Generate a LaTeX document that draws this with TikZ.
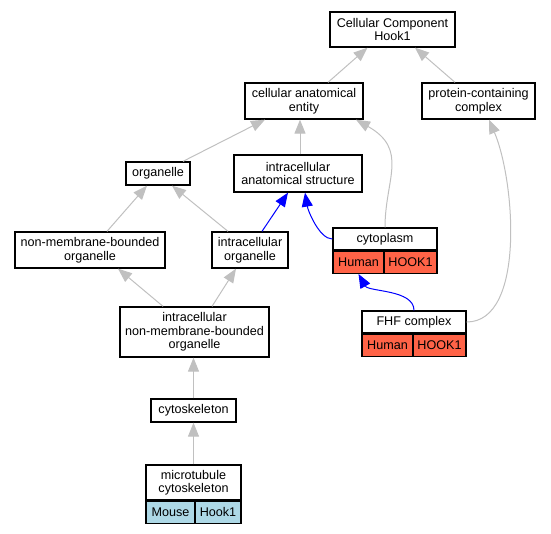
\documentclass[tikz,border=0pt]{standalone}
\usepackage{fontspec}
\setmainfont{Liberation Sans}
\usetikzlibrary{arrows.meta}
\definecolor{humanred}{HTML}{FF6347}
\definecolor{mouseblue}{HTML}{ADD8E6}
\definecolor{isagray}{HTML}{C0C0C0}

\begin{document}
\begin{tikzpicture}[x=1pt, y=-1pt,
    term/.style={draw, line width=1.3pt, fill=white, align=center, inner sep=0pt,
        font=\fontsize{12.6}{13.5}\selectfont},
    cell/.style={term, minimum height=22pt},
    isa/.style={draw=isagray, line width=1pt, -{Triangle[length=14pt,width=11pt]}},
    partof/.style={isa, draw=blue}]
    \useasboundingbox (0,0) rectangle (551,533);
    % Top of the ontology
    \node[term, minimum width=125pt, minimum height=35pt] (root) at (392.5,29.5) {Cellular Component\\Hook1};
    \node[term, minimum width=118pt, minimum height=36pt] (cae) at (304,101) {cellular anatomical\\entity};
    \node[term, minimum width=113pt, minimum height=36pt] (pcc) at (478.5,101) {protein-containing\\complex};
    % Second level
    \node[term, minimum width=64pt, minimum height=23pt] (org) at (158,173.5) {organelle};
    \node[term, minimum width=128pt, minimum height=37pt] (ias) at (298,173.5) {intracellular\\anatomical structure};
    % Organelles
    \node[term, minimum width=150pt, minimum height=36pt] (nmbo) at (90,250) {non-membrane-bounded\\organelle};
    \node[term, minimum width=76pt, minimum height=36pt] (io) at (250,250) {intracellular\\organelle};
    \node[term, minimum width=149pt, minimum height=50pt] (inmbo) at (194.5,332) {intracellular\\non-membrane-bounded\\organelle};
    \node[term, minimum width=85pt, minimum height=23pt] (csk) at (193.5,410.5) {cytoskeleton};
    % Annotated terms with species and gene
    \node[cell, minimum width=104pt] (cyto) at (385,239) {cytoplasm};
    \node[cell, fill=humanred, minimum width=51pt, anchor=north west] (cyhum) at (cyto.south west) {Human};
    \node[cell, fill=humanred, minimum width=53pt, anchor=north east] (cyhook) at (cyto.south east) {HOOK1};
    \node[cell, minimum width=104pt] (fhf) at (414,322) {FHF complex};
    \node[cell, fill=humanred, minimum width=51pt, anchor=north west] (fhfhum) at (fhf.south west) {Human};
    \node[cell, fill=humanred, minimum width=53pt, anchor=north east] (fhfhook) at (fhf.south east) {HOOK1};
    \node[term, minimum width=95pt, minimum height=35pt] (mt) at (193.5,482.5) {microtubule\\cytoskeleton};
    \node[cell, fill=mouseblue, minimum width=49pt, anchor=north west] (mtmouse) at (mt.south west) {Mouse};
    \node[cell, fill=mouseblue, minimum width=46pt, anchor=north east] (mthook) at (mt.south east) {Hook1};
    % is_a edges
    \draw[isa] ([xshift=24pt]cae.north) -- ([xshift=-25pt]root.south);
    \draw[isa] ([xshift=-23.5pt]pcc.north) -- ([xshift=22.5pt]root.south);
    \draw[isa] ([xshift=25pt]org.north) -- ([xshift=-39pt]cae.south);
    \draw[isa] ([xshift=2pt]ias.north) -- ([xshift=-4pt]cae.south);
    \draw[isa] (cyto.north) .. controls +(0,-48) and +(53,30) .. ([xshift=52pt]cae.south);
    \draw[isa] (fhf.east) .. controls +(59,0) and +(26,61) .. ([xshift=10.5pt]pcc.south);
    \draw[isa] ([xshift=17pt]nmbo.north) -- ([xshift=-11pt]org.south);
    \draw[isa] ([xshift=-22pt]io.north) -- ([xshift=14pt]org.south);
    \draw[isa] ([xshift=-31.5pt]inmbo.north) -- ([xshift=28pt]nmbo.south);
    \draw[isa] ([xshift=17.5pt]inmbo.north) -- ([xshift=-14pt]io.south);
    \draw[isa] (csk.north) -- (csk.north |- inmbo.south);
    \draw[isa] (mt.north) -- (mt.north |- csk.south);
    % part_of edges
    \draw[partof] ([xshift=12pt]io.north) -- ([xshift=-10pt]ias.south);
    \draw[partof] (cyto.west) .. controls +(-13,0) and +(3,18) .. ([xshift=7pt]ias.south);
    \draw[partof] (fhf.north) .. controls +(0,-21) and +(10,18) .. (cyhum.south);
\end{tikzpicture}
\end{document}
